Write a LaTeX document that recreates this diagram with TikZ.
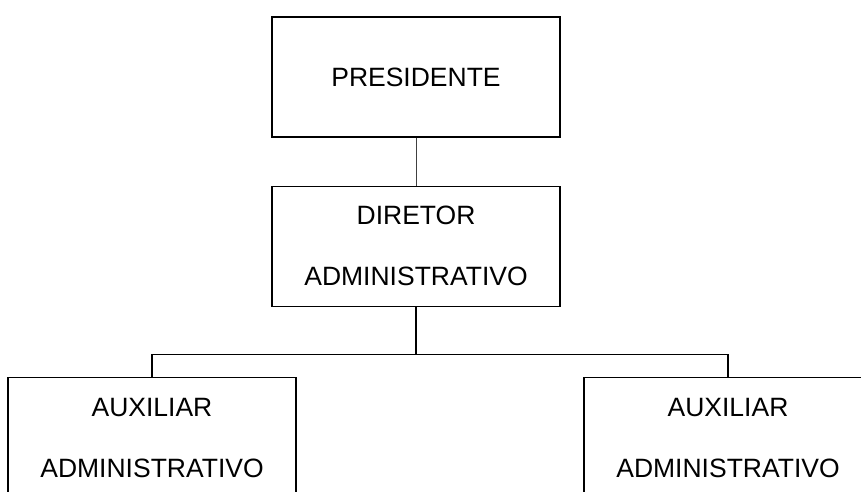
\documentclass[tikz,border=0pt]{standalone}
\usepackage{fontspec}
\setmainfont{Liberation Sans}
\usetikzlibrary{positioning}

\begin{document}
\begin{tikzpicture}[x=1pt,y=1pt,
    cargo/.style={draw,line width=1.2pt,minimum width=288pt,minimum height=120pt,
                  inner sep=0pt,align=center,font={\fontsize{26.5}{61}\selectfont}},
    ligacao/.style={line width=1.2pt}]
   \useasboundingbox (0,0) rectangle (861,-491);
   \clip (0,0) rectangle (861,-491);
   % presidencia e diretoria
   \node[cargo] (pres) at (416,-77) {PRESIDENTE};
   \node[cargo,below=48pt of pres] (dir) {DIRETOR\\ADMINISTRATIVO};
   % auxiliares
   \node[cargo,anchor=north] (aux1) at (152,-377) {AUXILIAR\\ADMINISTRATIVO};
   \node[cargo,anchor=north] (aux2) at (728,-377) {AUXILIAR\\ADMINISTRATIVO};
   % linhas
   \draw[line width=0.8pt,black!75] (pres.south) -- (dir.north);
   \draw[ligacao] (dir.south) -- ++(0,-48) coordinate (bar);
   \draw[ligacao] (aux1.north) |- (bar) -| (aux2.north);
\end{tikzpicture}
\end{document}
